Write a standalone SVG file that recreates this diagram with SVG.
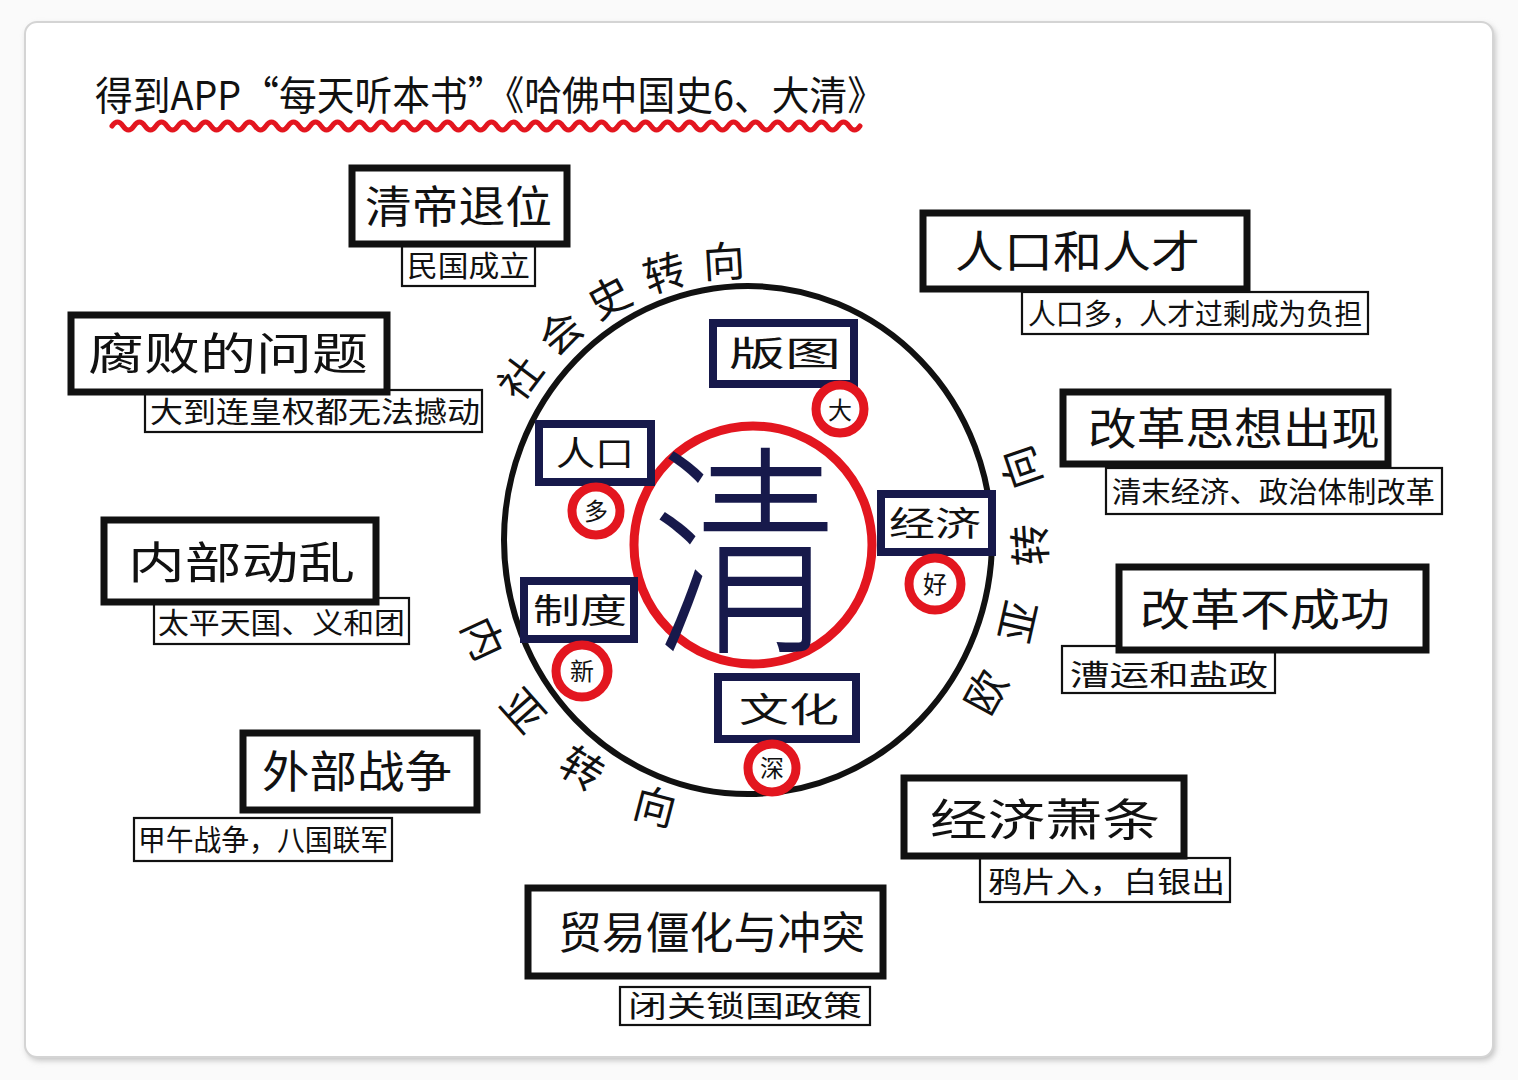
<svg xmlns="http://www.w3.org/2000/svg" width="1518" height="1080" viewBox="0 0 1518 1080">
<defs>
<style>
.t{font-family:"Noto Sans CJK SC","Noto Sans",sans-serif;fill:#111}
.box{fill:#fff;stroke:#111;stroke-width:7}
.sub{fill:#fff;stroke:#111;stroke-width:2.2}
.nbox{fill:#fff;stroke:#17194b;stroke-width:8}
.rc{fill:#fff;stroke:#e3161f;stroke-width:9}
.main{font-size:44px}
.small{font-size:29px}
.nav{font-size:34px;fill:#111}
.rt{font-size:24px;text-anchor:middle}
.arc{font-size:42px}
</style>
<filter id="sh" x="-5%" y="-5%" width="110%" height="110%"><feGaussianBlur stdDeviation="3"/></filter>
<path id="pTop" d="M499.9 449.7 A264 264 0 0 1 838.3 291.9"/>
<path id="pRight" d="M938.9 767.5 A297 297 0 0 0 1005.2 391.5"/>
<path id="pLeft" d="M452.1 565.9 A297 297 0 0 0 722.1 835.9"/>
</defs>
<rect x="0" y="0" width="1518" height="1080" fill="#fafafa"/>
<rect x="27" y="25" width="1468" height="1035" rx="12" fill="#bbb" filter="url(#sh)"/>
<rect x="25" y="22" width="1468" height="1035" rx="12" fill="#fff" stroke="#d4d4d4" stroke-width="2"/>

<g id="title">
<text class="t" x="95" y="110" font-size="40" textLength="790" lengthAdjust="spacingAndGlyphs">得到APP“每天听本书”《哈佛中国史6、大清》</text>
<path d="M112 126 q5.5 -8 11 0 t11 0 t11 0 t11 0 t11 0 t11 0 t11 0 t11 0 t11 0 t11 0 t11 0 t11 0 t11 0 t11 0 t11 0 t11 0 t11 0 t11 0 t11 0 t11 0 t11 0 t11 0 t11 0 t11 0 t11 0 t11 0 t11 0 t11 0 t11 0 t11 0 t11 0 t11 0 t11 0 t11 0 t11 0 t11 0 t11 0 t11 0 t11 0 t11 0 t11 0 t11 0 t11 0 t11 0 t11 0 t11 0 t11 0 t11 0 t11 0 t11 0 t11 0 t11 0 t11 0 t11 0 t11 0 t11 0 t11 0 t11 0 t11 0 t11 0 t11 0 t11 0 t11 0 t11 0 t11 0 t11 0 t11 0 t11 0" fill="none" stroke="#e3161f" stroke-width="5" stroke-linecap="round"/>
</g>

<g id="center">
<ellipse cx="748" cy="540" rx="244" ry="254" fill="none" stroke="#111" stroke-width="6"/>
<circle cx="753" cy="545" r="119" fill="none" stroke="#e3161f" stroke-width="9"/>
<text class="t" x="652" y="636" font-size="225" font-weight="300" textLength="186" lengthAdjust="spacingAndGlyphs" style="fill:#17194b">清</text>
</g>

<g id="arcs">
<text class="t arc"><textPath href="#pTop" startOffset="50" letter-spacing="15">社会史转向</textPath></text>
<text class="t arc"><textPath href="#pRight" startOffset="70" letter-spacing="40">欧亚转向</textPath></text>
<text class="t arc"><textPath href="#pLeft" startOffset="60" letter-spacing="45">内亚转向</textPath></text>
</g>

<g id="n-bantu">
<rect class="nbox" x="713" y="323" width="141" height="61"/>
<text class="t nav" x="729" y="366" font-size="36" textLength="112" lengthAdjust="spacingAndGlyphs">版图</text>
<circle class="rc" cx="840" cy="409" r="24"/>
<text class="t rt" x="840" y="419">大</text>
</g>
<g id="n-renkou">
<rect class="nbox" x="539" y="424" width="112" height="58"/>
<text class="t nav" x="556" y="466" textLength="78" lengthAdjust="spacingAndGlyphs">人口</text>
<circle class="rc" cx="596" cy="511" r="24"/>
<text class="t rt" x="596" y="520">多</text>
</g>
<g id="n-jingji">
<rect class="nbox" x="881" y="494" width="111" height="58"/>
<text class="t nav" x="889" y="536" textLength="92" lengthAdjust="spacingAndGlyphs">经济</text>
<circle class="rc" cx="935" cy="584" r="26"/>
<text class="t rt" x="935" y="593">好</text>
</g>
<g id="n-zhidu">
<rect class="nbox" x="524" y="581" width="110" height="58"/>
<text class="t nav" x="533" y="623" textLength="94" lengthAdjust="spacingAndGlyphs">制度</text>
<circle class="rc" cx="582" cy="671" r="26"/>
<text class="t rt" x="582" y="680">新</text>
</g>
<g id="n-wenhua">
<rect class="nbox" x="718" y="677" width="138" height="62"/>
<text class="t nav" x="739" y="722" font-size="38" textLength="100" lengthAdjust="spacingAndGlyphs">文化</text>
<circle class="rc" cx="772" cy="768" r="24"/>
<text class="t rt" x="772" y="777">深</text>
</g>

<g id="n1">
<rect class="sub" x="402" y="246" width="133" height="40"/>
<rect class="box" x="352" y="168" width="215" height="76"/>
<text class="t main" x="365" y="223" textLength="187" lengthAdjust="spacingAndGlyphs">清帝退位</text>
<text class="t small" x="407" y="277" textLength="123" lengthAdjust="spacingAndGlyphs">民国成立</text>
</g>
<g id="n2">
<rect class="sub" x="145" y="390" width="337" height="42"/>
<rect class="box" x="71" y="315" width="316" height="77"/>
<text class="t main" x="88" y="370" font-size="46" textLength="280" lengthAdjust="spacingAndGlyphs">腐败的问题</text>
<text class="t small" x="150" y="423" textLength="330" lengthAdjust="spacingAndGlyphs">大到连皇权都无法撼动</text>
</g>
<g id="n3">
<rect class="sub" x="154" y="598" width="255" height="46"/>
<rect class="box" x="104" y="520" width="272" height="82"/>
<text class="t main" x="128" y="579" font-size="48" textLength="227" lengthAdjust="spacingAndGlyphs">内部动乱</text>
<text class="t small" x="158" y="634" textLength="247" lengthAdjust="spacingAndGlyphs">太平天国、义和团</text>
</g>
<g id="n4">
<rect class="sub" x="134" y="818" width="258" height="43"/>
<rect class="box" x="243" y="733" width="234" height="77"/>
<text class="t main" x="262" y="788" textLength="190" lengthAdjust="spacingAndGlyphs">外部战争</text>
<text class="t small" x="138" y="851" textLength="250" lengthAdjust="spacingAndGlyphs">甲午战争，八国联军</text>
</g>
<g id="n5">
<rect class="sub" x="1022" y="292" width="346" height="42"/>
<rect class="box" x="923" y="213" width="324" height="76"/>
<text class="t main" x="955" y="268" font-size="46" textLength="245" lengthAdjust="spacingAndGlyphs">人口和人才</text>
<text class="t small" x="1028" y="325" textLength="334" lengthAdjust="spacingAndGlyphs">人口多，人才过剩成为负担</text>
</g>
<g id="n6">
<rect class="sub" x="1106" y="468" width="336" height="46"/>
<rect class="box" x="1063" y="392" width="325" height="72"/>
<text class="t main" x="1088" y="445" font-size="46" textLength="292" lengthAdjust="spacingAndGlyphs">改革思想出现</text>
<text class="t small" x="1112" y="503" textLength="323" lengthAdjust="spacingAndGlyphs">清末经济、政治体制改革</text>
</g>
<g id="n7">
<rect class="sub" x="1062" y="646" width="213" height="47"/>
<rect class="box" x="1119" y="567" width="307" height="83"/>
<text class="t main" x="1140" y="626" font-size="48" textLength="250" lengthAdjust="spacingAndGlyphs">改革不成功</text>
<text class="t small" x="1070" y="686" font-size="30" textLength="198" lengthAdjust="spacingAndGlyphs">漕运和盐政</text>
</g>
<g id="n8">
<rect class="sub" x="980" y="858" width="250" height="44"/>
<rect class="box" x="904" y="778" width="280" height="78"/>
<text class="t main" x="930" y="836" font-size="50" textLength="230" lengthAdjust="spacingAndGlyphs">经济萧条</text>
<text class="t small" x="988" y="893" font-size="30" textLength="237" lengthAdjust="spacingAndGlyphs">鸦片入，白银出</text>
</g>
<g id="n9">
<rect class="sub" x="620" y="987" width="250" height="38"/>
<rect class="box" x="528" y="888" width="355" height="88"/>
<text class="t main" x="558" y="949" textLength="307" lengthAdjust="spacingAndGlyphs">贸易僵化与冲突</text>
<text class="t small" x="628" y="1017" textLength="234" lengthAdjust="spacingAndGlyphs">闭关锁国政策</text>
</g>
</svg>
